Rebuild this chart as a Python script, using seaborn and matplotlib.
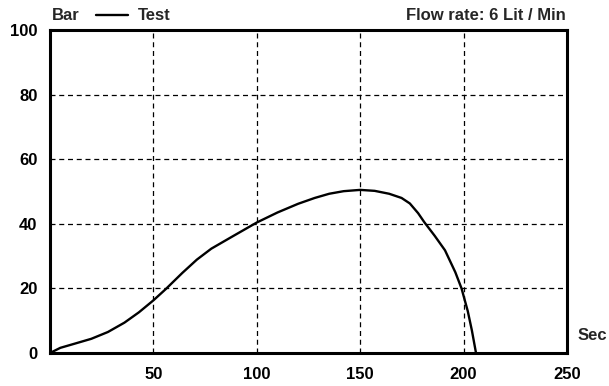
import matplotlib
matplotlib.use("Agg")
import matplotlib.pyplot as plt
import seaborn as sns
import pandas as pd

# Data
time_sec = [0, 5, 12, 20, 28, 36, 43, 50, 56, 64, 71, 78, 88, 100, 110, 120, 128, 135, 142, 150,
            157, 164, 170, 174, 178, 181, 186, 191, 196, 199, 202, 204, 206]
pressure_bar = [0, 1.6, 2.9, 4.4, 6.5, 9.4, 12.6, 16.3, 19.8, 24.8, 28.9, 32.3, 36.0, 40.4, 43.5, 46.2, 48.0, 49.3, 50.1, 50.5,
                50.2, 49.3, 48.0, 46.3, 43.3, 40.5, 36.3, 31.8, 25.0, 20.0, 13.0, 7.0, 0]
series_label = "Test"
x_ticks = [50, 100, 150, 200, 250]
y_ticks = [0, 20, 40, 60, 80, 100]
y_unit = "Bar"
x_unit = "Sec"
title_right = "Flow rate: 6 Lit / Min"

df = pd.DataFrame({"t": time_sec, "p": pressure_bar})

sns.set_theme(style="white")
plt.rcParams["font.family"] = ["Liberation Sans", "DejaVu Sans"]
plt.rcParams["font.weight"] = "bold"

FS = 12

fig = plt.figure(figsize=(6.09, 3.86), dpi=100)
ax = fig.add_axes([50 / 609, 1 - 353 / 386, 517 / 609, 323 / 386])

sns.lineplot(data=df, x="t", y="p", color="black", linewidth=1.7, ax=ax,
             sort=False, label=series_label, legend=False)

ax.set_xlim(0, 250)
ax.set_ylim(0, 100)
ax.set_xticks(x_ticks)
ax.set_yticks(y_ticks)
ax.set_xticklabels([str(v) for v in x_ticks], fontsize=FS, fontweight="bold")
ax.set_yticklabels([str(v) for v in y_ticks], fontsize=FS, fontweight="bold")
ax.set_xlabel("")
ax.set_ylabel("")

ax.grid(True, color="black", linestyle=(0, (4, 3)), linewidth=0.9)
ax.tick_params(axis="x", direction="out", length=4, width=1.5, pad=6, colors="black")
ax.tick_params(axis="y", direction="out", length=0, pad=9, colors="black")
for sp in ax.spines.values():
    sp.set_visible(True)
    sp.set_color("black")
    sp.set_linewidth(2.2)

# Header texts
fig.text(52 / 609, 1 - 16 / 386, y_unit, ha="left", va="center", fontsize=FS, fontweight="bold")
fig.legend(handles=ax.get_lines()[:1], labels=[series_label], loc="center left",
           bbox_to_anchor=(96 / 609, 1 - 16 / 386), frameon=False,
           handlelength=1.9, handletextpad=0.6, borderpad=0, borderaxespad=0,
           prop={"size": FS, "weight": "bold"})
fig.text(566 / 609, 1 - 15 / 386, title_right, ha="right", va="center", fontsize=FS, fontweight="bold")
ax.text(1.02, 0.055, x_unit, transform=ax.transAxes, ha="left", va="center",
        fontsize=FS, fontweight="bold")

fig.savefig("out.png", dpi=100)
